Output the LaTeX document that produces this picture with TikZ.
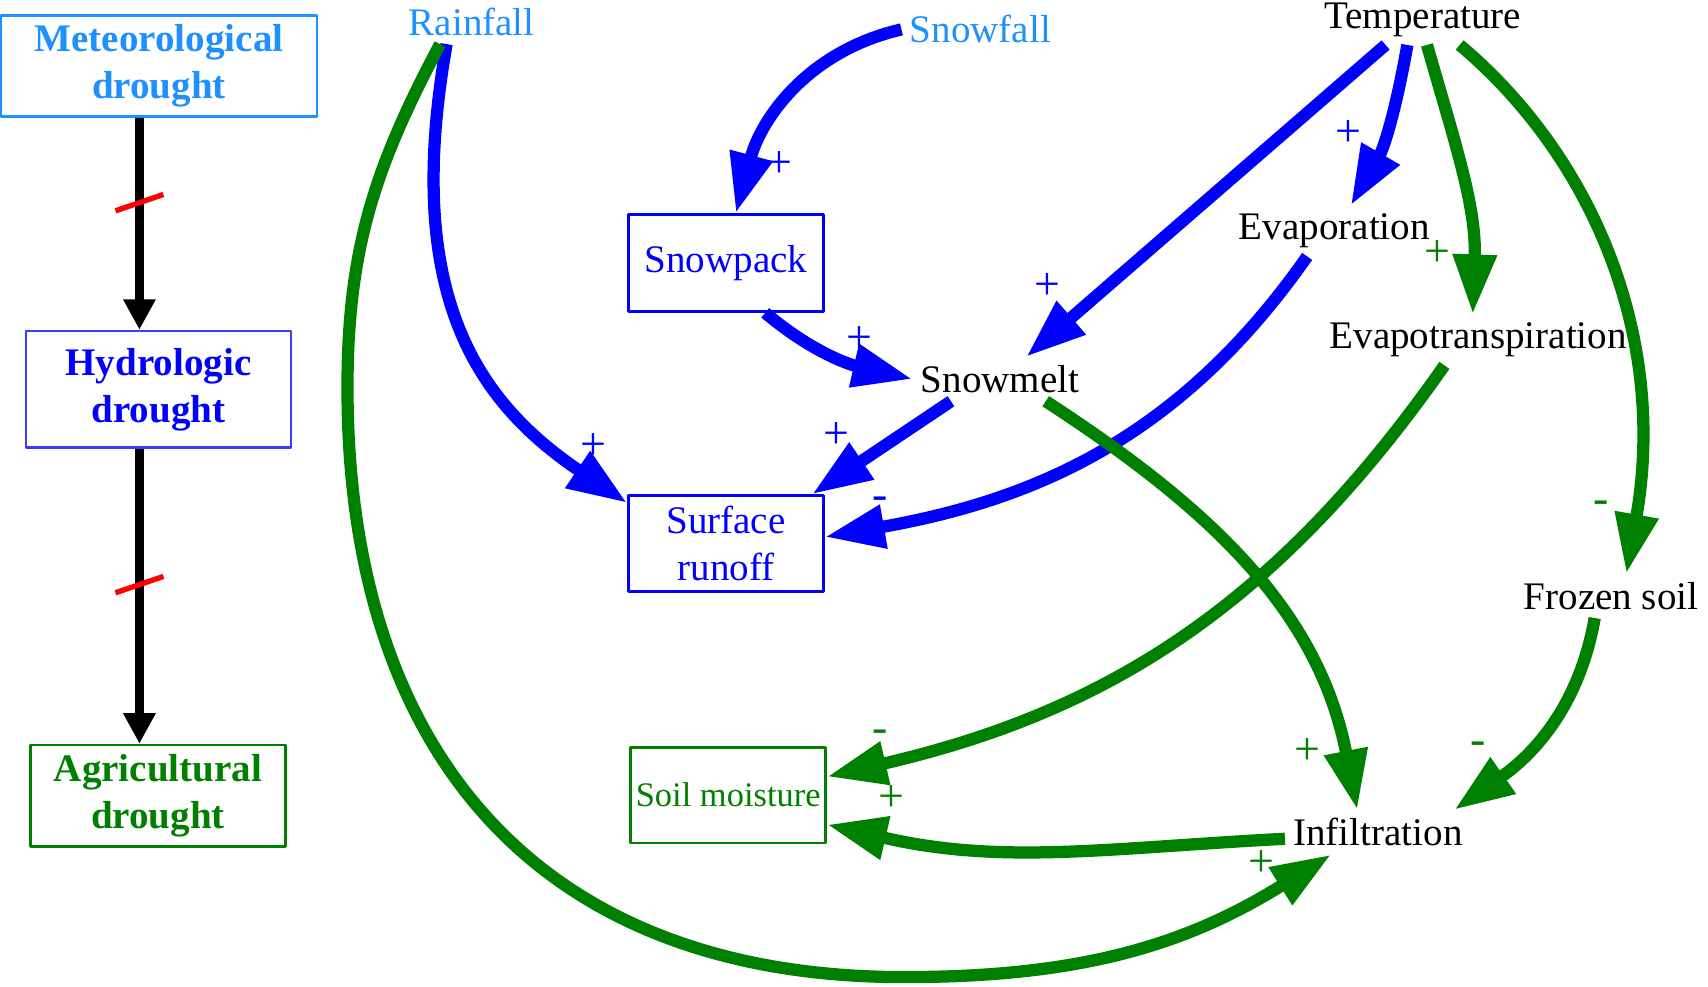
\documentclass[tikz,border=0pt]{standalone}
\usepackage{fontspec}
\setmainfont{Liberation Serif}
\usetikzlibrary{arrows.meta,calc}
\definecolor{rainblue}{RGB}{30,144,255}
\definecolor{flowblue}{RGB}{0,0,255}
\definecolor{boxblue}{RGB}{60,60,255}
\definecolor{soilgreen}{RGB}{0,128,0}
\definecolor{cutred}{RGB}{255,0,0}

\begin{document}
\begin{tikzpicture}[line join=round,
 font=\fontsize{10.2}{12.2}\selectfont,
 box/.style={draw,line width=0.7pt,align=center,inner sep=0pt,
  minimum width=1.79cm,minimum height=0.89cm},
 kind/.style={box,font=\fontsize{10.2}{12.2}\selectfont\bfseries},
 var/.style={inner sep=2pt},
 sgn/.style={font=\fontsize{12}{12}\selectfont,inner sep=0pt},
 link/.style={line width=3.2pt,-{Triangle[length=5.5mm,width=3.8mm]}},
 chain/.style={line width=2.3pt,-{Triangle[length=2.8mm,width=2.8mm]}},
 cut/.style={cutred,line width=1.4pt}]
 \useasboundingbox (0,0) rectangle (15.68,9.06);
 % Drought types.
 \node[kind,rainblue,minimum width=2.90cm,minimum height=0.93cm] (met)
  at (1.46,8.455) {Meteorological\\drought};
 \node[kind,boxblue,text=flowblue,minimum width=2.43cm,minimum height=1.07cm] (hyd)
  at (1.455,5.485) {Hydrologic\\drought};
 \node[kind,soilgreen,minimum width=2.34cm,minimum height=0.93cm] (agr)
  at (1.45,1.755) {Agricultural\\drought};
 \draw[chain] ([xshift=-1.8mm]met.south) -- coordinate[pos=.40] (cut1)
  ([xshift=-1.75mm]hyd.north);
 \draw[chain] ([xshift=-1.75mm]hyd.south) -- coordinate[pos=.46] (cut2)
  ([xshift=-1.7mm]agr.north);
 \draw[cut] ($(cut1)+(-0.22,-0.075)$) -- ($(cut1)+(0.22,0.075)$);
 \draw[cut] ($(cut2)+(-0.22,-0.075)$) -- ($(cut2)+(0.22,0.075)$);
 % Variables.
 \node[var,rainblue] (rain) at (4.33,8.86) {Rainfall};
 \node[var,rainblue] (snowf) at (9.00,8.79) {Snowfall};
 \node[var] (temp) at (13.06,8.88) {Temperature};
 \node[box,flowblue] (snowp) at (6.665,6.645) {Snowpack};
 \node[box,flowblue,minimum height=0.88cm] (runoff) at (6.665,4.07) {Surface\\runoff};
 \node[box,soilgreen,minimum height=0.88cm,font=\fontsize{9}{11}\selectfont] (soil)
  at (6.685,1.76) {Soil moisture};
 \node[var] (snowm) at (9.18,5.58) {Snowmelt};
 \node[var] (evap) at (12.25,6.94) {Evaporation};
 \node[var] (evapot) at (13.57,5.94) {Evapotranspiration};
 \node[var] (frozen) at (14.79,3.59) {Frozen soil};
 \node[var] (infil) at (12.65,1.42) {Infiltration};
 % Blue links.
 \draw[link,flowblue] (snowf.west) to[out=193,in=75] ([xshift=0.9mm]snowp.north);
 \draw[link,flowblue] ([xshift=3.6mm]snowp.south) to[out=-40,in=167] (snowm.west);
 \draw[link,flowblue] ([xshift=-3.4mm]temp.south) -- ([xshift=2.4mm]snowm.north);
 \draw[link,flowblue] ([xshift=-1.4mm]temp.south) to[out=-100,in=60]
  ([xshift=1.5mm]evap.north);
 \draw[link,flowblue] ([xshift=-2.3mm]rain.south) .. controls +(-100:2.3) and +(146:1.7) ..
  ([yshift=-0.8mm]runoff.north west);
 \draw[link,flowblue] ([xshift=-4.5mm]snowm.south) -- ([xshift=7.9mm]runoff.north);
 \draw[link,flowblue] ([xshift=-2.5mm]evap.south) to[out=235,in=10]
  ([yshift=0.6mm]runoff.east);
 % Green links.
 \draw[link,soilgreen] ([xshift=0.4mm]temp.south) to[out=-74,in=88]
  ([xshift=-0.5mm]evapot.north);
 \draw[link,soilgreen] ([xshift=3.4mm]temp.south) .. controls +(-40:1.6) and +(80:2.2) ..
  ([xshift=1.4mm]frozen.north);
 \draw[link,soilgreen] ([xshift=4.2mm]snowm.south) to[out=-33,in=101]
  ([xshift=-1.9mm]infil.north);
 \draw[link,soilgreen] ([xshift=-3.1mm]evapot.south) to[out=235,in=13]
  ([yshift=1.7mm]soil.east);
 \draw[link,soilgreen] ([xshift=-1.5mm]frozen.south) to[out=-100,in=35]
  ([xshift=7mm]infil.north);
 \draw[link,soilgreen] ([yshift=-0.6mm]infil.west) to[out=183,in=-13]
  ([yshift=-2.7mm]soil.east);
 \draw[link,soilgreen] ([xshift=-2.9mm]rain.south) to[out=-118,in=90] (3.19,5.50)
  to[out=-90,in=180,looseness=1.15] (8.30,0.09)
  to[out=0,in=212] ([xshift=-4.3mm]infil.south);
 % Signs.
 \node[sgn,flowblue] (s1) at (7.16,7.55) {+};
 \node[sgn,flowblue] (s2) at (7.89,5.94) {+};
 \node[sgn,flowblue] (s3) at (9.62,6.43) {+};
 \node[sgn,flowblue] (s4) at (12.38,7.83) {+};
 \node[sgn,soilgreen] (s5) at (13.20,6.73) {+};
 \node[sgn,soilgreen] (s6) at (14.70,4.40) {-};
 \node[sgn,flowblue] (s7) at (5.45,4.96) {+};
 \node[sgn,flowblue] (s8) at (7.68,5.06) {+};
 \node[sgn,flowblue] (s9) at (8.08,4.44) {-};
 \node[sgn,soilgreen] (s10) at (12.00,2.16) {+};
 \node[sgn,soilgreen] (s11) at (8.08,2.30) {-};
 \node[sgn,soilgreen] (s12) at (13.57,2.19) {-};
 \node[sgn,soilgreen] (s13) at (8.18,1.73) {+};
 \node[sgn,soilgreen] (s14) at (11.58,1.13) {+};
\end{tikzpicture}
\end{document}
